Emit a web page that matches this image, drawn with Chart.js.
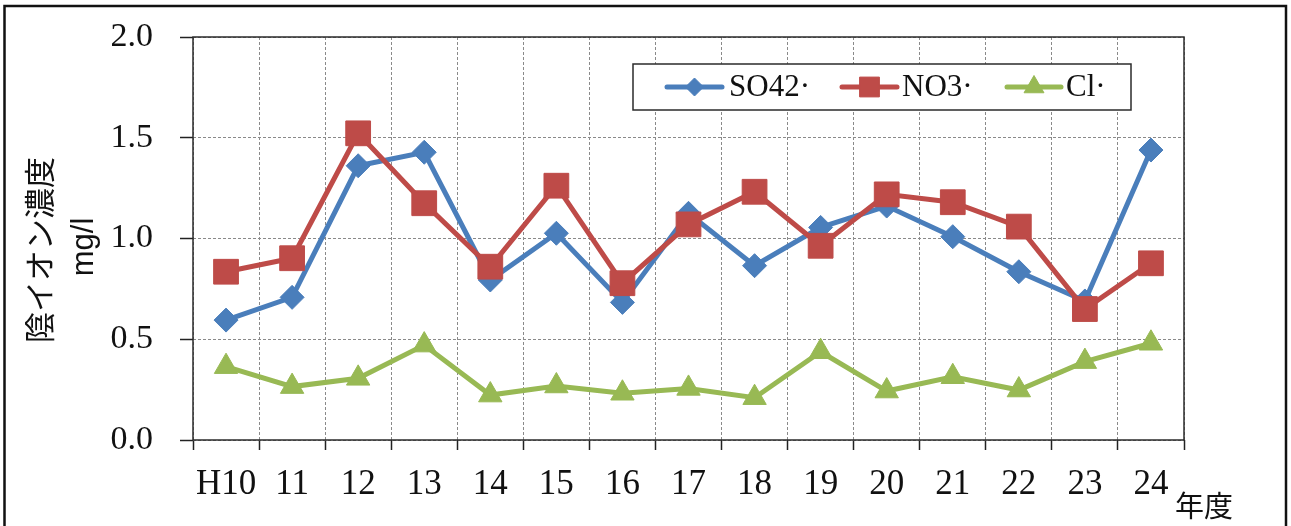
<!DOCTYPE html>
<html>
<head>
<meta charset="utf-8">
<script src="https://cdn.jsdelivr.net/npm/chart.js@4"></script>
<style>
  html, body { margin: 0; padding: 0; background: #fff; }
  canvas { display: block; }
</style>
</head>
<body>
<canvas id="c" width="1291" height="526"></canvas>
<script>
// Fiscal years (Heisei) on the category axis
const years = ['H10', '11', '12', '13', '14', '15', '16', '17', '18', '19', '20', '21', '22', '23', '24'];

// Anion concentrations, mg/l
const so4 = [0.595, 0.708, 1.361, 1.428, 0.794, 1.026, 0.683, 1.125, 0.865, 1.055, 1.161, 1.009, 0.835, 0.690, 1.439];
const no3 = [0.835, 0.902, 1.522, 1.175, 0.860, 1.262, 0.778, 1.070, 1.232, 0.964, 1.219, 1.180, 1.059, 0.650, 0.877];
const cl  = [0.364, 0.265, 0.306, 0.471, 0.223, 0.268, 0.232, 0.256, 0.210, 0.438, 0.243, 0.314, 0.248, 0.389, 0.480];

// Series names and value-axis ticks
const seriesNames = ['SO42·', 'NO3·', 'Cl·'];
const yTicks = [0, 0.5, 1.0, 1.5, 2.0];

const COLORS = { so4: '#4a7ebb', no3: '#be4b48', cl: '#98b954' };
const SERIF = '"Liberation Serif", "DejaVu Serif", serif';
const CJK = '"Noto Sans CJK JP", "Noto Sans", sans-serif';
const PLOT_TOP = 37;

function series(name, data, color, style, radius, order) {
  return {
    label: name,
    data: data,
    borderColor: color,
    backgroundColor: color,
    borderWidth: 5,
    pointStyle: style,
    pointRadius: radius,
    pointHoverRadius: radius,
    pointBorderWidth: 1,
    pointBorderColor: color,
    pointBackgroundColor: color,
    tension: 0,
    order: order
  };
}

// Pin the top of the plotting area so the value scale spans a fixed height
const pinTop = {
  id: 'pinTop',
  afterLayout(chart) {
    const a = chart.chartArea;
    const y = chart.scales.y;
    a.top = PLOT_TOP;
    a.height = a.bottom - a.top;
    y.top = PLOT_TOP;
    y.height = y.bottom - y.top;
    y.configure();
  }
};

// Solid frame around the plotting area, below the data
const plotFrame = {
  id: 'plotFrame',
  beforeDatasetsDraw(chart) {
    const { ctx, chartArea: a } = chart;
    ctx.save();
    ctx.strokeStyle = '#2b2b2b';
    ctx.lineWidth = 1.5;
    ctx.setLineDash([]);
    ctx.strokeRect(a.left, a.top, a.right - a.left, a.bottom - a.top);
    ctx.restore();
  }
};

// Legend box, axis captions and the outer border
const decorations = {
  id: 'decorations',
  afterDraw(chart) {
    const ctx = chart.ctx;
    ctx.save();
    ctx.setLineDash([]);

    // outer border
    ctx.strokeStyle = '#111';
    ctx.lineWidth = 2.5;
    ctx.strokeRect(4.5, 6, 1281.5, 560);

    // legend
    const box = { x: 633, y: 64, w: 498, h: 46 };
    ctx.fillStyle = '#fff';
    ctx.fillRect(box.x, box.y, box.w, box.h);
    ctx.strokeStyle = '#2b2b2b';
    ctx.lineWidth = 1.5;
    ctx.strokeRect(box.x, box.y, box.w, box.h);

    const cy = box.y + box.h / 2;
    const items = [
      { x0: 667, x1: 722, tx: 729, ds: chart.data.datasets[0], r: 9 },
      { x0: 842, x1: 897, tx: 902, ds: chart.data.datasets[1], r: 14 },
      { x0: 1007, x1: 1061, tx: 1066, ds: chart.data.datasets[2], r: 11.5 }
    ];
    items.forEach(it => {
      ctx.strokeStyle = it.ds.borderColor;
      ctx.lineWidth = 5;
      ctx.lineCap = 'round';
      ctx.beginPath();
      ctx.moveTo(it.x0, cy);
      ctx.lineTo(it.x1, cy);
      ctx.stroke();
      ctx.lineCap = 'butt';
      ctx.fillStyle = it.ds.borderColor;
      ctx.lineWidth = 1;
      Chart.helpers.drawPoint(ctx, { pointStyle: it.ds.pointStyle, radius: it.r, rotation: 0, borderWidth: 1 },
        (it.x0 + it.x1) / 2, cy);
      ctx.fillStyle = '#111';
      ctx.font = '31px ' + SERIF;
      ctx.textAlign = 'left';
      ctx.textBaseline = 'middle';
      ctx.fillText(it.ds.label, it.tx, cy + 1);
    });

    // value-axis caption
    ctx.fillStyle = '#111';
    ctx.save();
    ctx.translate(39, 250);
    ctx.rotate(-Math.PI / 2);
    ctx.textAlign = 'center';
    ctx.textBaseline = 'middle';
    ctx.font = '31px ' + CJK;
    ctx.fillText('陰イオン濃度', 0, 0);
    ctx.restore();

    ctx.save();
    ctx.translate(84, 247);
    ctx.rotate(-Math.PI / 2);
    ctx.textAlign = 'center';
    ctx.textBaseline = 'middle';
    ctx.font = '31px "Liberation Sans", Arial, sans-serif';
    ctx.fillText('mg/l', 0, 0);
    ctx.restore();

    // category-axis caption
    ctx.textAlign = 'left';
    ctx.textBaseline = 'middle';
    ctx.font = '29px ' + CJK;
    ctx.fillText('年度', 1175, 506);

    ctx.restore();
  }
};

new Chart(document.getElementById('c'), {
  type: 'line',
  data: {
    labels: years,
    datasets: [
      series(seriesNames[0], so4, COLORS.so4, 'rectRot', 12, 2),
      series(seriesNames[1], no3, COLORS.no3, 'rect', 17.5, 1),
      series(seriesNames[2], cl, COLORS.cl, 'triangle', 13.5, 3)
    ]
  },
  options: {
    responsive: false,
    animation: false,
    events: [],
    devicePixelRatio: 1,
    layout: { padding: { left: 0, top: PLOT_TOP, right: 107, bottom: 0 } },
    plugins: { legend: { display: false }, tooltip: { enabled: false }, title: { display: false } },
    scales: {
      x: {
        type: 'category',
        offset: true,
        grid: {
          offset: true,
          color: '#8a8a8a',
          lineWidth: 1,
          tickColor: '#222',
          tickLength: 10,
          tickWidth: 1.5
        },
        border: { display: false, dash: [3, 2] },
        ticks: {
          font: { family: SERIF, size: 35 },
          color: '#111',
          padding: 14,
          maxRotation: 0,
          autoSkip: false
        },
        afterFit(scale) { scale.height = 86; }
      },
      y: {
        min: 0,
        max: 2,
        afterBuildTicks(scale) { scale.ticks = yTicks.map(v => ({ value: v })); },
        ticks: {
          font: { family: SERIF, size: 34 },
          color: '#111',
          padding: 27,
          callback: v => Number(v).toFixed(1)
        },
        grid: {
          color: '#8a8a8a',
          lineWidth: 1,
          tickColor: '#222',
          tickLength: 13,
          tickWidth: 1.5
        },
        border: { display: false, dash: [3, 2] },
        afterFit(scale) { scale.width = 193; }
      }
    }
  },
  plugins: [pinTop, plotFrame, decorations]
});
</script>
</body>
</html>
